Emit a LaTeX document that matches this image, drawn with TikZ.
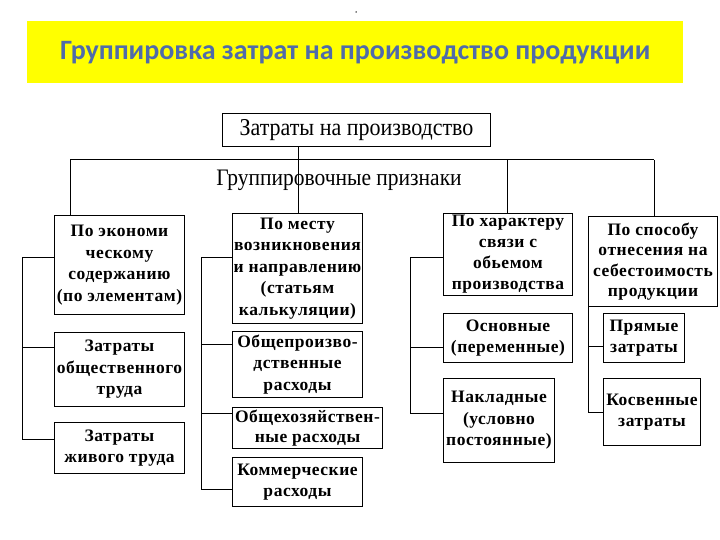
\documentclass[tikz,border=0pt]{standalone}
\usepackage{fontspec}
\setmainfont{Liberation Serif}
\newfontfamily\titlefont{Carlito}
\newfontfamily\boxfont[LetterSpace=3]{Liberation Serif}
\definecolor{bannerY}{HTML}{FFFF00}
\definecolor{titleC}{HTML}{4F6BAA}
\begin{document}
\begin{tikzpicture}[x=1pt,y=-1pt,
  box/.style={draw, line width=1pt, inner sep=0pt, anchor=north west, align=center,
    font=\boxfont\bfseries\fontsize{17.5}{21.5}\selectfont},
  conn/.style={line width=1pt}]
\useasboundingbox (0,0) rectangle (720,540);
\fill[white] (0,0) rectangle (720,540);
% banner
\node[fill=bannerY, minimum width=656pt, minimum height=62pt, inner sep=0pt, anchor=north west,
  font=\titlefont\bfseries\fontsize{28}{30}\selectfont, text=titleC] (banner) at (27,21)
  {Группировка затрат на производство продукции};
\node[fill=black, circle, inner sep=0pt, minimum size=1.5pt] (dot) at (356,12) {};
% top box
\node[draw, line width=1pt, inner sep=0pt, anchor=north west, minimum width=268pt, minimum height=33pt,
  font=\fontsize{22}{24}\selectfont] (top) at (222,113) {\scalebox{1}[1.1]{Затраты на производство}};
\node[font=\fontsize{21.5}{24}\selectfont, inner sep=0pt] (crit) at (339,180) {\scalebox{1}[1.1]{Группировочные признаки}};
% column 1
\node[box, minimum width=130pt, minimum height=99pt] (a1) at (54,215) {По экономи\\ческому\\содержанию\\(по элементам)};
\node[box, minimum width=130pt, minimum height=74pt] (a2) at (54,332) {Затраты\\общественного\\труда};
\node[box, minimum width=130pt, minimum height=51pt] (a3) at (54,422) {Затраты\\живого труда};
% column 2
\node[box, minimum width=130pt, minimum height=110pt] (b1) at (232,213) {По месту\\возникновения\\и направлению\\(статьям\\калькуляции)};
\node[box, minimum width=130pt, minimum height=66pt] (b2) at (232,331) {Общепроизво-\\дственные\\расходы};
\node[box, minimum width=150pt, minimum height=41pt, font=\boxfont\bfseries\fontsize{17.5}{20}\selectfont] (b3) at (232,407) {Общехозяйствен-\\ные расходы};
\node[box, minimum width=130pt, minimum height=49pt] (b4) at (232,457) {Коммерческие\\расходы};
% column 3
\node[box, minimum width=129pt, minimum height=82pt, font=\boxfont\bfseries\fontsize{17.5}{21}\selectfont] (c1) at (443,213) {По характеру\\связи с\\обьемом\\производства};
\node[box, minimum width=129pt, minimum height=49pt] (c2) at (443,313) {Основные\\(переменные)};
\node[box, minimum width=111pt, minimum height=84pt] (c3) at (443,378) {Накладные\\(условно\\постоянные)};
% column 4
\node[box, minimum width=129pt, minimum height=90pt, font=\boxfont\bfseries\fontsize{17.5}{20.5}\selectfont] (d1) at (588,216) {По способу\\отнесения на\\себестоимость\\продукции};
\node[box, minimum width=81pt, minimum height=49pt] (d2) at (603,313) {Прямые\\затраты};
\node[box, minimum width=97pt, minimum height=67pt] (d3) at (603,378) {Косвенные\\затраты};
% bus coordinates
\coordinate (hb) at (298,160);
\coordinate (hl) at (70,160);
\coordinate (hr) at (654,160);
\coordinate (hc) at (507,160);
\draw[conn] (top.south -| hb) -- (hb);
\draw[conn] (hl) -- (hr);
\draw[conn] (hl) -- (a1.north -| hl);
\draw[conn] (hb) -- (b1.north -| hb);
\draw[conn] (hc) -- (c1.north -| hc);
\draw[conn] (hr) -- (d1.north -| hr);
% column 1 bus
\coordinate (p1) at (22,257);
\coordinate (p2) at (22,347);
\coordinate (p3) at (22,439);
\draw[conn] (a1.west |- p1) -- (p1) -- (p3) -- (a3.west |- p3);
\draw[conn] (p2) -- (a2.west |- p2);
% column 2 bus
\coordinate (q1) at (201,257);
\coordinate (q2) at (201,344);
\coordinate (q3) at (201,413);
\coordinate (q4) at (201,489);
\draw[conn] (b1.west |- q1) -- (q1) -- (q4) -- (b4.west |- q4);
\draw[conn] (q2) -- (b2.west |- q2);
\draw[conn] (q3) -- (b3.west |- q3);
% column 3 bus
\coordinate (r1) at (410,257);
\coordinate (r2) at (410,347);
\coordinate (r3) at (410,413);
\draw[conn] (c1.west |- r1) -- (r1) -- (r3) -- (c3.west |- r3);
\draw[conn] (r2) -- (c2.west |- r2);
% column 4 bus
\coordinate (s2) at (588,346);
\coordinate (s3) at (588,412);
\draw[conn] (d1.south west) -- (s3) -- (d3.west |- s3);
\draw[conn] (s2) -- (d2.west |- s2);
\end{tikzpicture}
\end{document}
